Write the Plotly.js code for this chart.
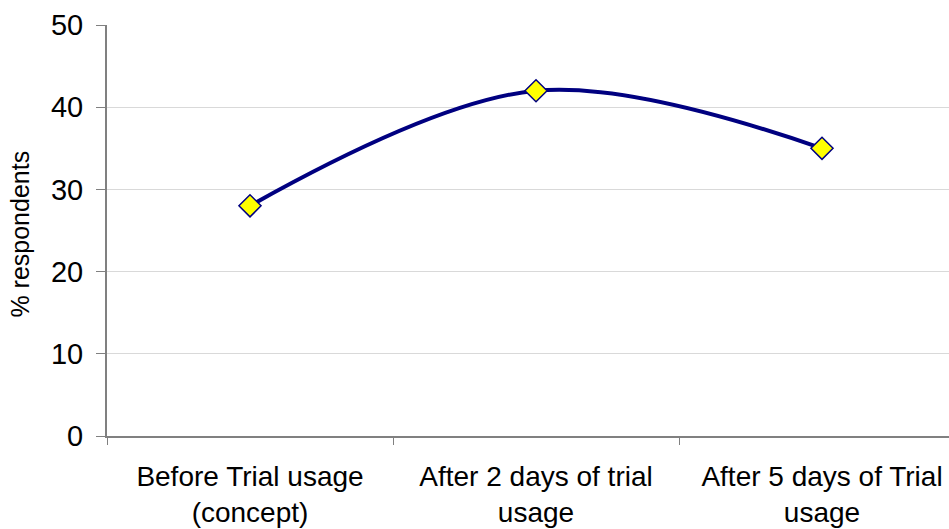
<!DOCTYPE html>
<html><head><meta charset="utf-8">
<script src="https://cdn.plot.ly/plotly-3.0.1.min.js"></script>
<style>html,body{margin:0;padding:0;background:#fff}#c{width:949px;height:529px}</style>
</head><body><div id="c"></div>
<script>
const categories = ["Before Trial usage<br>(concept)", "After 2 days of trial<br>usage", "After 5 days of Trial<br>usage"];
const values = [28, 42, 35];
const yTicks = [0, 10, 20, 30, 40, 50];
const yTitle = "% respondents";

const trace = {
  x: categories, y: values, type: "scatter", mode: "lines+markers",
  line: {color: "#000080", width: 4, shape: "spline", smoothing: 1},
  marker: {symbol: "diamond", size: 17, color: "#ffff00", line: {color: "#000080", width: 1.5}},
  hoverinfo: "none"
};
const layout = {
  width: 949, height: 529,
  margin: {l: 107, r: 0, t: 25, b: 93},
  paper_bgcolor: "#fff", plot_bgcolor: "#fff",
  showlegend: false,
  font: {family: "Liberation Sans, Arial, sans-serif", color: "#000"},
  xaxis: {
    type: "category", range: [-0.5, 2.444],
    tickson: "boundaries", ticks: "outside", ticklen: 7, tickcolor: "#808080",
    showline: true, linecolor: "#808080", linewidth: 2, showgrid: false,
    tickfont: {size: 28}, zeroline: false, ticklabelstandoff: 14
  },
  yaxis: {
    range: [0, 50], tickvals: yTicks, ticks: "outside", ticklen: 9, tickcolor: "#808080",
    showline: true, linecolor: "#808080", linewidth: 2,
    showgrid: true, gridcolor: "#d9d9d9", gridwidth: 1, zeroline: false,
    tickfont: {size: 29}, ticklabelstandoff: 7
  },
  annotations: [{
    text: yTitle, textangle: -90, showarrow: false,
    xref: "paper", yref: "paper", x: 0, y: 0.49, xanchor: "center", yanchor: "middle",
    xshift: -87, font: {size: 25, color: "#000"}
  }]
};
Plotly.newPlot("c", [trace], layout, {staticPlot: true});
</script></body></html>
